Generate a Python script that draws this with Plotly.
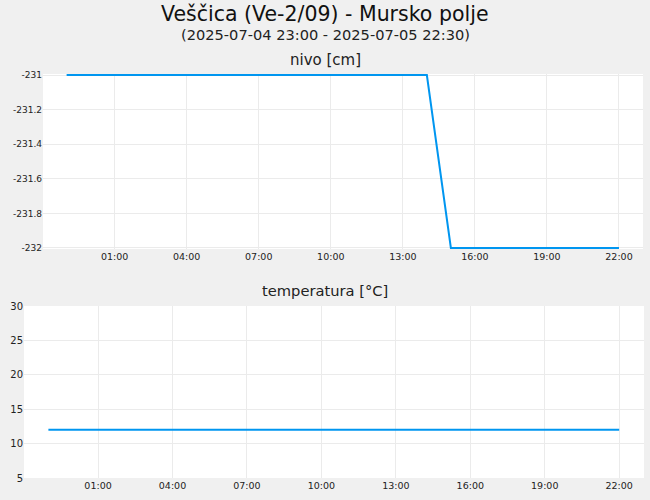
import plotly.graph_objects as go

# mjerenja (hourly)
times = [
    "2025-07-04 23:00", "2025-07-05 00:00", "2025-07-05 01:00", "2025-07-05 02:00",
    "2025-07-05 03:00", "2025-07-05 04:00", "2025-07-05 05:00", "2025-07-05 06:00",
    "2025-07-05 07:00", "2025-07-05 08:00", "2025-07-05 09:00", "2025-07-05 10:00",
    "2025-07-05 11:00", "2025-07-05 12:00", "2025-07-05 13:00", "2025-07-05 14:00",
    "2025-07-05 15:00", "2025-07-05 16:00", "2025-07-05 17:00", "2025-07-05 18:00",
    "2025-07-05 19:00", "2025-07-05 20:00", "2025-07-05 21:00", "2025-07-05 22:00",
]
nivo = [
    -231, -231, -231, -231, -231, -231, -231, -231,
    -231, -231, -231, -231, -231, -231, -231, -231,
    -232, -232, -232, -232, -232, -232, -232, -232,
]
temperatura = [
    12, 12, 12, 12, 12, 12, 12, 12,
    12, 12, 12, 12, 12, 12, 12, 12,
    12, 12, 12, 12, 12, 12, 12, 12,
]

nivo_ticks = [-232, -231.8, -231.6, -231.4, -231.2, -231]
nivo_ticktext = ["-232", "-231.8", "-231.6", "-231.4", "-231.2", "-231"]

title = "Veščica (Ve-2/09) - Mursko polje"
subtitle = "(2025-07-04 23:00 - 2025-07-05 22:30)"

line_color = "#0096f0"
grid_color = "#ebebeb"
font = "DejaVu Sans"

fig = go.Figure()
fig.add_trace(go.Scatter(x=times, y=nivo, mode="lines", xaxis="x", yaxis="y",
                         line=dict(color=line_color, width=2), showlegend=False))
fig.add_trace(go.Scatter(x=times, y=temperatura, mode="lines", xaxis="x2", yaxis="y2",
                         line=dict(color=line_color, width=2), showlegend=False))

xcommon = dict(
    type="date",
    range=["2025-07-04 22:01", "2025-07-05 23:00"],
    tick0="2025-07-05 01:00",
    dtick=3 * 3600000,
    tickformat="%H:%M",
    showgrid=True, gridcolor=grid_color, zeroline=False,
    showline=False, ticks="", automargin=False,
    tickfont=dict(family=font, size=9.5, color="#222"),
)

# malo prosireno da linija na rubu ne bude odrezana
fig.update_layout(
    width=650, height=500,
    paper_bgcolor="#f0f0f0", plot_bgcolor="white",
    margin=dict(l=0, r=0, t=0, b=0),
    font=dict(family=font, color="#111"),
    xaxis=dict(domain=[43 / 650, 643 / 650], anchor="y", **xcommon),
    yaxis=dict(domain=[1 - 249 / 500, 1 - 74 / 500], anchor="x",
               range=[-232.006, -230.994], tickvals=nivo_ticks, ticktext=nivo_ticktext,
               showgrid=True, gridcolor=grid_color, automargin=False,
               zeroline=False, ticks="", tickfont=dict(family=font, size=9, color="#222")),
    xaxis2=dict(domain=[24 / 650, 644 / 650], anchor="y2", **xcommon),
    yaxis2=dict(domain=[1 - 478 / 500, 1 - 306 / 500], anchor="x2",
                range=[5, 30], dtick=5, showgrid=True, gridcolor=grid_color, automargin=False,
                zeroline=False, ticks="", tickfont=dict(family=font, size=10, color="#222")),
)

annotations = [
    dict(text=title, y=1 - 14 / 500, font=dict(size=20.5, color="#111")),
    dict(text=subtitle, y=1 - 34 / 500, font=dict(size=14.6, color="#222")),
    dict(text="nivo [cm]", y=1 - 60 / 500, font=dict(size=15, color="#222")),
    dict(text="temperatura [°C]", y=1 - 290 / 500, font=dict(size=14.7, color="#222")),
]
for a in annotations:
    fig.add_annotation(x=0.5, xref="paper", yref="paper", showarrow=False,
                       xanchor="center", yanchor="middle", **a)

# bez margine oko grafa
fig.write_html("out.html", config={"displayModeBar": False},
               post_script="document.body.style.margin='0';")
